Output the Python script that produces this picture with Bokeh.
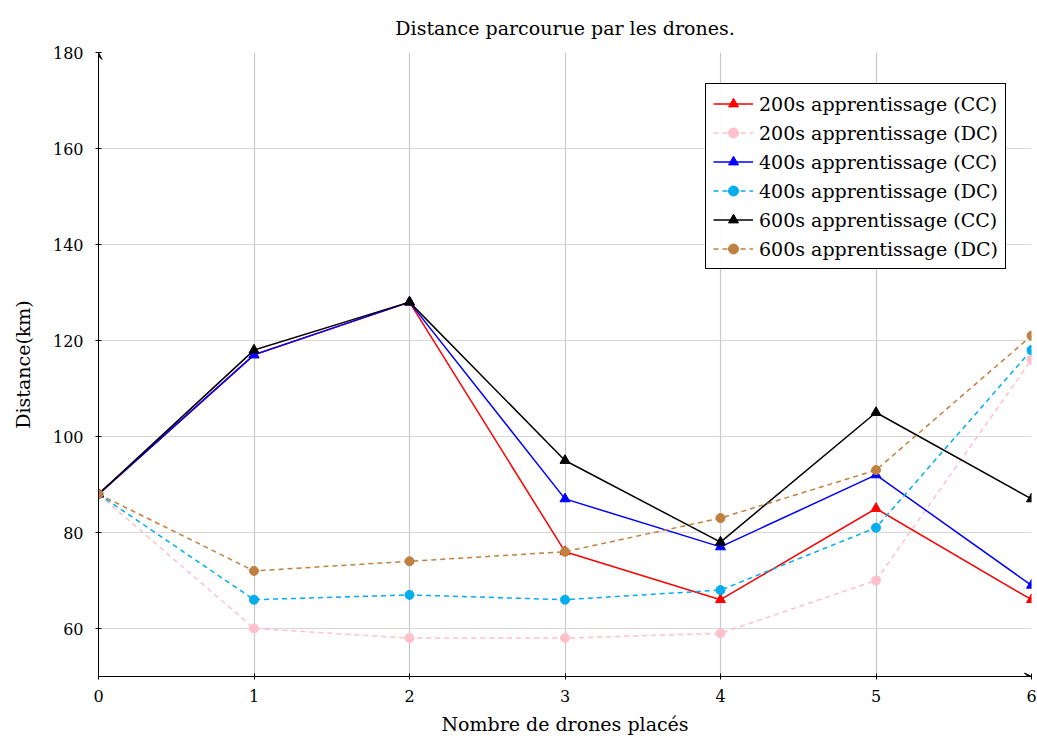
from bokeh.plotting import figure
from bokeh.models import Range1d, Arrow, VeeHead, Legend, LegendItem, FixedTicker
from bokeh.embed import file_html
from bokeh.resources import INLINE

x = [0, 1, 2, 3, 4, 5, 6]
cc200 = [88, 117, 128, 76, 66, 85, 66]
dc200 = [88, 60, 58, 58, 59, 70, 116]
cc400 = [88, 117, 128, 87, 77, 92, 69]
dc400 = [88, 66, 67, 66, 68, 81, 118]
cc600 = [88, 118, 128, 95, 78, 105, 87]
dc600 = [88, 72, 74, 76, 83, 93, 121]
labels = ["200s apprentissage (CC)", "200s apprentissage (DC)",
          "400s apprentissage (CC)", "400s apprentissage (DC)",
          "600s apprentissage (CC)", "600s apprentissage (DC)"]
colors = ["#ff0000", "#ffc0cb", "#0000ff", "#00adef", "#000000", "#bf8040"]
yticks = [60, 80, 100, 120, 140, 160, 180]
xmin, xmax, ymin, ymax = 0, 6, 50, 180

FONT = "DejaVu Serif"

p = figure(width=1037, height=740, output_backend="svg", toolbar_location=None,
           x_range=Range1d(xmin, xmax), y_range=Range1d(ymin, ymax),
           min_border_left=98, min_border_right=6, min_border_top=52, min_border_bottom=64)
p.outline_line_color = None
p.title.text = "Distance parcourue par les drones."
p.title.align = "center"
p.title.text_font = FONT
p.title.text_font_style = "normal"
p.title.text_font_size = "19px"
p.title.text_color = "#000000"
p.title.offset = 0
p.title.standoff = 28

for ax in (p.xaxis, p.yaxis):
    ax.axis_line_color = "#000000"
    ax.axis_line_width = 1
    ax.major_tick_in = 3
    ax.major_tick_out = 3
    ax.major_tick_line_color = "#000000"
    ax.minor_tick_line_color = None
    ax.major_label_text_font = FONT
    ax.major_label_text_font_size = "16px"
    ax.major_label_text_color = "#000000"
    ax.axis_label_text_font = FONT
    ax.axis_label_text_font_size = "19px"
    ax.axis_label_text_font_style = "normal"
    ax.axis_label_text_color = "#000000"
p.xaxis.ticker = FixedTicker(ticks=x)
p.yaxis.ticker = FixedTicker(ticks=yticks)
p.xaxis.axis_label = "Nombre de drones placés"
p.yaxis.axis_label = "Distance(km)"
p.xaxis.major_label_standoff = 10
p.yaxis.major_label_standoff = 12
p.xaxis.axis_label_standoff = 8
p.yaxis.axis_label_standoff = 16
p.xgrid.grid_line_color = "#c8c8c8"
p.ygrid.grid_line_color = "#d8d8d8"
p.grid.grid_line_width = 1.2

series = [cc200, dc200, cc400, dc400, cc600, dc600]
items = []
for i, (ys, lab, col) in enumerate(zip(series, labels, colors)):
    dashed = i % 2 == 1
    r1 = p.line(x, ys, line_color=col, line_width=1.5,
                line_dash="5 4" if dashed else "solid")
    if dashed:
        r2 = p.scatter(x, ys, marker="circle", size=9, fill_color=col, line_color=col)
    else:
        r2 = p.scatter(x, ys, marker="triangle", size=10, fill_color=col, line_color=col)
    items.append(LegendItem(label=lab, renderers=[r1, r2]))

legend = Legend(items=items, location=(607, 407))
legend.label_text_font = FONT
legend.label_text_font_size = "19px"
legend.label_text_color = "#000000"
legend.border_line_color = "#000000"
legend.border_line_width = 1
legend.border_line_alpha = 1
legend.glyph_width = 40
legend.label_standoff = 6
legend.spacing = 4
legend.padding = 7
legend.margin = 0
legend.label_height = 25
legend.glyph_height = 25
p.add_layout(legend)

p.add_layout(Arrow(end=VeeHead(size=7, line_color="black", fill_color="black"),
                   x_start=xmin, y_start=ymin, x_end=xmax, y_end=ymin, line_width=1))
p.add_layout(Arrow(end=VeeHead(size=7, line_color="black", fill_color="black"),
                   x_start=xmin, y_start=ymin, x_end=xmin, y_end=ymax, line_width=1))

open("out.html", "w").write(file_html(p, INLINE))
